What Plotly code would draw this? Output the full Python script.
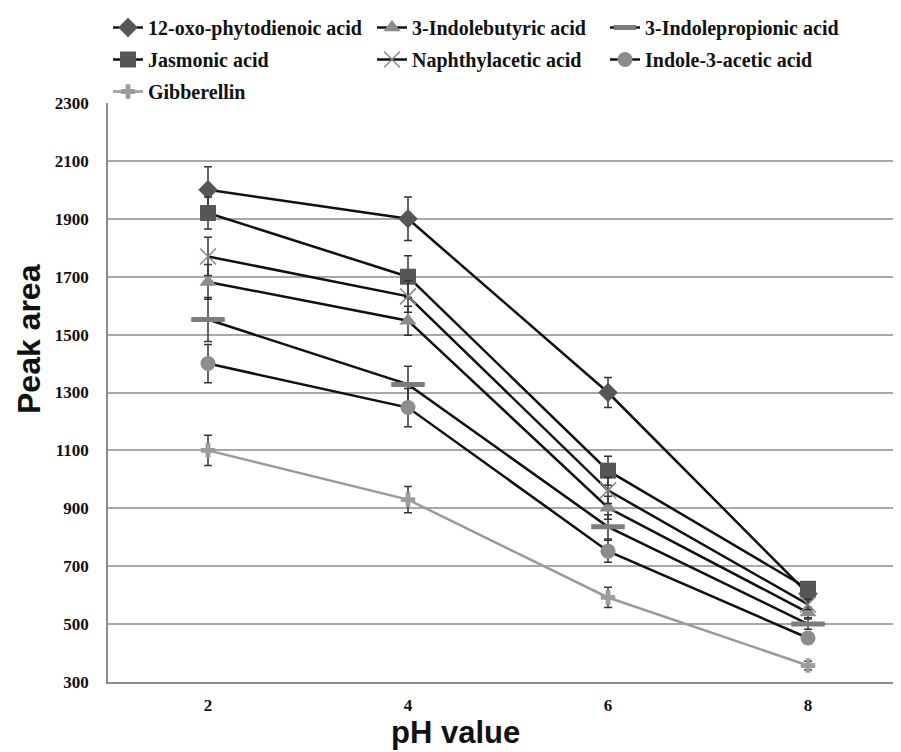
import plotly.graph_objects as go

ph = [2, 4, 6, 8]

names = ["12-oxo-phytodienoic acid", "Jasmonic acid", "Gibberellin",
         "3-Indolebutyric acid", "Naphthylacetic acid",
         "3-Indolepropionic acid", "Indole-3-acetic acid"]

opda = [2000, 1900, 1300, 605]
opda_err = [80, 75, 52, 20]
ja = [1920, 1700, 1030, 622]
ja_err = [55, 72, 50, 20]
ga = [1100, 930, 592, 357]
ga_err = [52, 45, 35, 15]
iba = [1682, 1548, 902, 540]
iba_err = [60, 50, 40, 18]
naa = [1770, 1632, 962, 568]
naa_err = [66, 55, 45, 18]
ipa = [1552, 1328, 836, 500]
ipa_err = [76, 63, 42, 18]
iaa = [1400, 1248, 752, 452]
iaa_err = [66, 66, 38, 15]

yticks = [300, 500, 700, 900, 1100, 1300, 1500, 1700, 1900, 2100, 2300]

series = [
    (names[0], opda, opda_err, "diamond", 15, "#565656", "#111111", "legend", None),
    (names[1], ja, ja_err, "square", 16, "#565656", "#111111", "legend", None),
    (names[2], ga, ga_err, "cross", 12, "#9c9c9c", "#9a9a9a", "legend", None),
    (names[3], iba, iba_err, "triangle-up", 15, "#8c8c8c", "#111111", "legend2", None),
    (names[4], naa, naa_err, "x-thin-open", 16, "#8a8a8a", "#111111", "legend2", 1.5),
    (names[5], ipa, ipa_err, "line-ew-open", 24, "#7c7c7c", "#111111", "legend3", 5),
    (names[6], iaa, iaa_err, "circle", 15, "#8c8c8c", "#111111", "legend3", None),
]

fig = go.Figure()
for nm, ys, err, sym, sz, mcol, lcol, leg, mlw in series:
    marker = dict(symbol=sym, size=sz, color=mcol)
    if mlw is not None:
        marker["line"] = dict(color=mcol, width=mlw)
    else:
        marker["line"] = dict(width=0)
    fig.add_trace(go.Scatter(
        x=ph, y=ys, name=nm, mode="lines+markers",
        line=dict(color=lcol, width=2.5),
        marker=marker,
        error_y=dict(type="data", array=err, visible=True, color="#333333",
                     thickness=1.5, width=4),
        legend=leg, legendgroup=nm,
    ))

# The page body adds an 8px offset, so the figure is 8px smaller than the window
# and every target below is given in window pixels.
OFF = 8
FIG_W, FIG_H = 901 - OFF, 752 - OFF
PLOT_L, PLOT_B, PLOT_T = 108, 682, 103          # window px
H_PAPER = (PLOT_B - OFF)                          # margin t=0
W_PAPER = (901 - PLOT_L)                          # margin r=0


def py(p):
    return (PLOT_B - p) / H_PAPER


def px(p):
    return (p - PLOT_L) / W_PAPER


legfont = dict(family="Liberation Serif", size=20, color="#111111", weight="bold")
legcommon = dict(orientation="v", xanchor="left", yanchor="top", y=1.0,
                 font=legfont, bgcolor="rgba(0,0,0,0)", tracegroupgap=3,
                 itemwidth=30, traceorder="grouped")

tickfont = dict(family="Liberation Serif", size=17, color="#111111", weight="bold")

fig.update_layout(
    width=FIG_W, height=FIG_H,
    margin=dict(l=PLOT_L - OFF, r=0, t=0, b=FIG_H - (PLOT_B - OFF)),
    paper_bgcolor="white", plot_bgcolor="white",
    showlegend=True,
    legend=dict(x=px(108), **legcommon),
    legend2=dict(x=px(372), **legcommon),
    legend3=dict(x=px(605), **legcommon),
    xaxis=dict(range=[1, 8.93], tickvals=ph, ticktext=[str(v) for v in ph],
               showgrid=False, zeroline=False, showline=True,
               linecolor="#8c8c8c", linewidth=1.5, ticks="",
               ticklabelstandoff=7, tickfont=tickfont, automargin=False),
    yaxis=dict(range=[300, 2300], tickvals=yticks,
               ticktext=[str(v) for v in yticks],
               domain=[0, py(PLOT_T)],
               showgrid=True, gridcolor="#a8a8a8", gridwidth=1.5,
               zeroline=False, showline=True, linecolor="#8c8c8c", linewidth=1.5,
               ticks="", ticklabelstandoff=14, tickfont=tickfont, automargin=False),
)

fig.add_annotation(text="<b>pH value</b>", xref="paper", yref="paper",
                   x=px(455), y=py(752),
                   xanchor="center", yanchor="bottom", showarrow=False,
                   font=dict(family="Liberation Sans", size=31, color="#111111"))
fig.add_annotation(text="<b>Peak area</b>", xref="paper", yref="paper",
                   x=px(29), y=py(339),
                   xanchor="center", yanchor="middle", showarrow=False,
                   textangle=-90,
                   font=dict(family="Liberation Sans", size=32, color="#111111"))

fig.write_html("out.html")
